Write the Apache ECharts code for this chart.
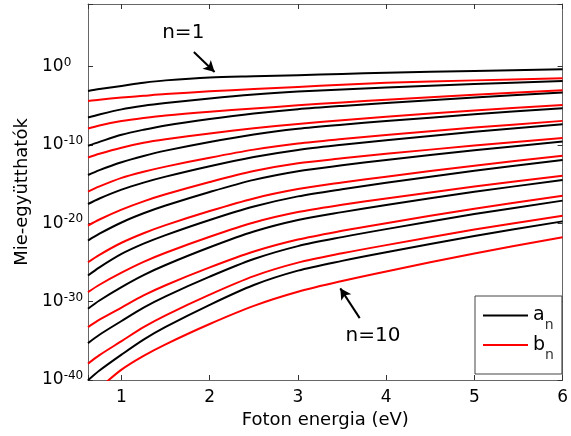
<!DOCTYPE html>
<html>
<head>
<meta charset="utf-8">
<script src="https://cdn.jsdelivr.net/npm/echarts@6/dist/echarts.min.js"></script>
<style>
  html, body { margin: 0; padding: 0; background: #fff; }
  #chart { width: 571px; height: 436px; }
</style>
</head>
<body>
<div id="chart"></div>
<script>
// Photon energies (eV) at which the Mie coefficients are sampled
const energies = [0.62, 0.75, 1, 1.25, 1.5, 2, 2.5, 3, 3.5, 4, 5, 6];

// log10 |a_n|, n = 1..10
const a1  = [-3.10, -2.86, -2.46, -2.05, -1.75, -1.38, -1.22, -1.08, -0.93, -0.78, -0.55, -0.33];
const a2  = [-6.50, -6.10, -5.45, -5.00, -4.65, -4.05, -3.55, -3.18, -2.91, -2.67, -2.22, -1.82];
const a3  = [-10.10, -9.60, -8.70, -8.05, -7.50, -6.68, -5.98, -5.43, -5.01, -4.64, -3.94, -3.31];
const a4  = [-13.83, -13.20, -12.20, -11.40, -10.72, -9.61, -8.65, -7.93, -7.41, -6.95, -6.08, -5.30];
const a5  = [-17.53, -16.83, -15.70, -14.80, -14.04, -12.71, -11.53, -10.63, -9.98, -9.40, -8.32, -7.34];
const a6  = [-22.20, -21.32, -19.89, -18.72, -17.73, -16.00, -14.45, -13.34, -12.59, -11.92, -10.67, -9.55];
const a7  = [-26.66, -25.62, -23.91, -22.60, -21.50, -19.57, -17.85, -16.56, -15.64, -14.83, -13.30, -11.92];
const a8  = [-30.90, -29.85, -28.14, -26.61, -25.32, -23.06, -21.05, -19.58, -18.57, -17.67, -15.98, -14.47];
const a9  = [-35.29, -34.22, -32.47, -30.76, -29.32, -26.81, -24.56, -22.91, -21.76, -20.74, -18.82, -17.10];
const a10 = [-40.04, -38.79, -36.76, -34.84, -33.22, -30.40, -27.87, -26.04, -24.79, -23.69, -21.62, -19.75];

// log10 |b_n|, n = 1..10
const b1  = [-4.37, -4.21, -3.95, -3.72, -3.50, -3.15, -2.85, -2.58, -2.30, -2.06, -1.75, -1.48];
const b2  = [-7.90, -7.50, -6.95, -6.55, -6.22, -5.74, -5.33, -4.94, -4.56, -4.22, -3.58, -3.01];
const b3  = [-11.59, -11.12, -10.35, -9.72, -9.27, -8.53, -7.87, -7.31, -6.83, -6.40, -5.60, -4.88];
const b4  = [-15.96, -15.29, -14.20, -13.42, -12.76, -11.62, -10.59, -9.81, -9.24, -8.73, -7.78, -6.92];
const b5  = [-20.29, -19.51, -18.25, -17.19, -16.29, -14.72, -13.32, -12.33, -11.70, -11.13, -10.07, -9.12];
const b6  = [-24.97, -24.02, -22.48, -21.26, -20.23, -18.43, -16.82, -15.63, -14.79, -14.04, -12.64, -11.38];
const b7  = [-28.79, -27.84, -26.30, -24.92, -23.75, -21.71, -19.89, -18.56, -17.64, -16.83, -15.30, -13.92];
const b8  = [-33.25, -32.30, -30.75, -29.21, -27.90, -25.63, -23.60, -22.07, -20.96, -19.98, -18.13, -16.47];
const b9  = [-37.91, -36.82, -35.04, -33.25, -31.74, -29.10, -26.74, -25.02, -23.83, -22.78, -20.80, -19.02];
const b10 = [-42.50, -41.04, -38.67, -36.91, -35.44, -32.85, -30.54, -28.74, -27.36, -26.14, -23.84, -21.78];

const aCoeffs = [a1, a2, a3, a4, a5, a6, a7, a8, a9, a10];
const bCoeffs = [b1, b2, b3, b4, b5, b6, b7, b8, b9, b10];

// y tick exponents and the two order labels (energy, log10 value)
const yTickExponents = [-40, -30, -20, -10, 0];
const labelFirst = { text: 'n=1',  at: [1.70, 4.3],   arrowFrom: [1.82, 1.87],  arrowTo: [2.055, -0.68] };
const labelLast  = { text: 'n=10', at: [3.85, -34.4], arrowFrom: [3.70, -32.1], arrowTo: [3.48, -28.3] };

const FONT = 'DejaVu Sans';
const FRAME = '#666';

function pairs(values) {
  return energies.map((e, i) => [e, values[i]]);
}

function annotate(lbl) {
  return {
    markLine: {
      silent: true,
      animation: false,
      symbol: ['none', 'arrow'],
      symbolSize: [9, 11],
      label: { show: false },
      lineStyle: { color: '#000', width: 2, type: 'solid' },
      emphasis: { disabled: true },
      data: [[{ coord: lbl.arrowFrom }, { coord: lbl.arrowTo }]]
    },
    markPoint: {
      silent: true,
      animation: false,
      symbol: 'circle',
      symbolSize: 0,
      label: {
        show: true, position: 'inside', formatter: lbl.text,
        color: '#000', fontSize: 20, fontFamily: FONT
      },
      data: [{ coord: lbl.at }]
    }
  };
}

function makeSeries(name, color, values, extra) {
  return Object.assign({
    type: 'line',
    name: name,
    data: pairs(values),
    symbol: 'none',
    smooth: 0.3,
    silent: true,
    animation: false,
    color: color,
    lineStyle: { color: color, width: 2 },
    emphasis: { disabled: true }
  }, extra || {});
}

const series = [];
aCoeffs.forEach((v, i) => series.push(makeSeries('an', '#000000', v, i === 0 ? annotate(labelFirst) : null)));
bCoeffs.forEach((v, i) => series.push(makeSeries('bn', '#ff0000', v, i === 9 ? annotate(labelLast) : null)));

const chart = echarts.init(document.getElementById('chart'), null, { renderer: 'canvas' });

const xCommon = {
  type: 'value', min: 0.62, max: 6,
  axisLine: { show: true, onZero: false, lineStyle: { color: FRAME, width: 1 } },
  axisTick: { show: true, inside: true, length: 5, lineStyle: { color: '#333' } },
  splitLine: { show: false }
};
const yCommon = {
  type: 'value', min: -40, max: 8, interval: 10,
  axisLine: { show: true, onZero: false, lineStyle: { color: FRAME, width: 1 } },
  axisTick: { show: true, inside: true, length: 5, lineStyle: { color: '#333' } },
  splitLine: { show: false }
};

chart.setOption({
  backgroundColor: '#fff',
  animation: false,
  grid: { left: 88, right: 4, top: 4, bottom: 56, containLabel: false },
  xAxis: [
    Object.assign({}, xCommon, {
      position: 'bottom',
      name: 'Foton energia (eV)',
      nameLocation: 'middle',
      nameGap: 30,
      nameTextStyle: { fontSize: 18, fontFamily: FONT, color: '#000' },
      axisLabel: {
        margin: 9, fontSize: 17, fontFamily: FONT, color: '#000',
        formatter: v => (Math.abs(v - Math.round(v)) < 1e-9 ? String(Math.round(v)) : '')
      }
    }),
    Object.assign({}, xCommon, { position: 'top', axisLabel: { show: false } })
  ],
  yAxis: [
    Object.assign({}, yCommon, {
      position: 'left',
      name: 'Mie-együtthatók',
      nameLocation: 'middle',
      nameGap: 57,
      nameTextStyle: { fontSize: 18, fontFamily: FONT, color: '#000' },
      axisLabel: {
        align: 'left', margin: 46, color: '#000',
        formatter: v => (yTickExponents.indexOf(v) >= 0 ? '{b|10}{e|' + v + '}' : ''),
        rich: {
          b: { fontSize: 17, fontFamily: FONT, color: '#000', lineHeight: 20 },
          e: { fontSize: 12, fontFamily: FONT, color: '#000', lineHeight: 12, verticalAlign: 'top' }
        }
      }
    }),
    Object.assign({}, yCommon, { position: 'right', axisLabel: { show: false } })
  ],
  legend: {
    data: [{ name: 'an', icon: 'rect' }, { name: 'bn', icon: 'rect' }],
    orient: 'vertical',
    left: 475, top: 296,
    backgroundColor: '#fff',
    borderColor: '#444', borderWidth: 1, borderRadius: 0,
    padding: [10, 8, 12, 8],
    itemWidth: 45, itemHeight: 2, itemGap: 3,
    selectedMode: false,
    formatter: name => (name === 'an' ? '{m|a}{s|n}' : '{m|b}{s|n}'),
    textStyle: {
      rich: {
        m: { fontSize: 19, fontFamily: FONT, color: '#000', lineHeight: 34, verticalAlign: 'middle' },
        s: { fontSize: 14, fontFamily: FONT, color: '#333', lineHeight: 12, verticalAlign: 'bottom' }
      }
    }
  },
  series: series
});
</script>
</body>
</html>
